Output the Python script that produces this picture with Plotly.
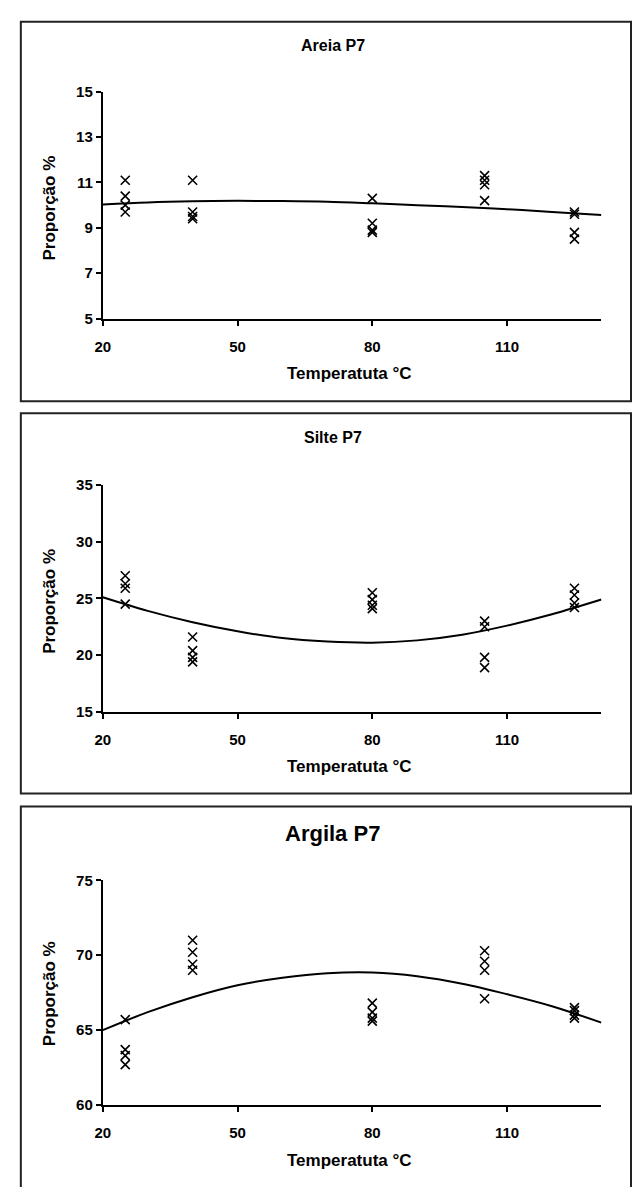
import plotly.graph_objects as go

W, H = 632, 1187

# ---------------- data ----------------
temps = [25, 40, 80, 105, 125]

areia_obs = {
    25: [11.1, 10.4, 10.0, 9.7],
    40: [11.1, 9.7, 9.5, 9.4],
    80: [10.3, 9.2, 8.9, 8.8],
    105: [11.3, 11.1, 10.9, 10.2],
    125: [9.7, 9.6, 8.8, 8.5],
}
silte_obs = {
    25: [27.0, 26.3, 25.9, 24.5],
    40: [21.6, 20.4, 19.8, 19.4],
    80: [25.5, 24.9, 24.4, 24.1],
    105: [23.0, 22.5, 19.8, 18.9],
    125: [25.9, 25.3, 24.6, 24.2],
}
argila_obs = {
    25: [65.7, 63.7, 63.3, 62.7],
    40: [71.0, 70.2, 69.4, 69.0],
    80: [66.8, 66.2, 65.8, 65.6],
    105: [70.3, 69.6, 69.0, 67.1],
    125: [66.5, 66.3, 66.0, 65.8],
}

# trend lines read at these temperatures
trend_t = [20, 30, 40, 50, 60, 70, 80, 90, 100, 110, 120, 131]
areia_trend = [10.03, 10.12, 10.17, 10.19, 10.18, 10.15, 10.08, 10.0, 9.92, 9.82, 9.70, 9.57]
silte_trend = [25.1, 23.9, 22.9, 22.1, 21.5, 21.2, 21.1, 21.3, 21.8, 22.6, 23.6, 24.9]
argila_trend = [65.0, 66.2, 67.2, 68.0, 68.5, 68.8, 68.85, 68.6, 68.1, 67.4, 66.6, 65.5]

titles = ["Areia P7", "Silte P7", "Argila P7"]
x_title = "Temperatuta °C"
y_title = "Proporção %"
x_ticks = [20, 50, 80, 110]
y_ticks = [[5, 7, 9, 11, 13, 15], [15, 20, 25, 30, 35], [60, 65, 70, 75]]
y_ranges = [[5, 15], [15, 35], [60, 75]]

# ---------------- layout geometry (pixels) ----------------
def py(p):
    return 1 - p / H

x_dom = [96 / W, 601 / W]
y_doms = [[py(314), py(84)], [py(713), py(483)], [py(1112), py(884)]]
boxes = [(13, 631, 13, 398), (13, 631, 410, 796), (13, 631, 809, 1200)]
title_y = [37, 435, 836]
title_size = [16, 16, 22]
xtitle_y = [370, 768, 1168]
ytitle_y = [202, 601, 999]

FONT = "Liberation Sans, Arial, sans-serif"

fig = go.Figure()
obs_all = [areia_obs, silte_obs, argila_obs]
trends = [areia_trend, silte_trend, argila_trend]

for i in range(3):
    xa = "x" if i == 0 else f"x{i+1}"
    ya = "y" if i == 0 else f"y{i+1}"
    xs, ys = [], []
    for t in temps:
        for v in obs_all[i][t]:
            xs.append(t)
            ys.append(v)
    fig.add_trace(go.Scatter(
        x=xs, y=ys, mode="markers", xaxis=xa, yaxis=ya,
        marker=dict(symbol="x-thin", size=9, line=dict(color="black", width=1.6)),
        showlegend=False, cliponaxis=False))
    fig.add_trace(go.Scatter(
        x=trend_t, y=trends[i], mode="lines", xaxis=xa, yaxis=ya,
        line=dict(color="black", width=2, shape="spline"),
        showlegend=False))

axis_common = dict(showline=True, linecolor="black", linewidth=2, ticks="outside",
                   ticklen=5, tickwidth=2, tickcolor="black", showgrid=False,
                   zeroline=False,
                   tickfont=dict(family=FONT, size=15, color="black", weight="bold"))

layout = dict(width=W, height=H, margin=dict(l=0, r=0, t=0, b=0),
              paper_bgcolor="white", plot_bgcolor="white", showlegend=False)
for i in range(3):
    xk = "xaxis" if i == 0 else f"xaxis{i+1}"
    yk = "yaxis" if i == 0 else f"yaxis{i+1}"
    ya = "y" if i == 0 else f"y{i+1}"
    xa = "x" if i == 0 else f"x{i+1}"
    layout[xk] = dict(domain=x_dom, anchor=ya, range=[20, 131], tickvals=x_ticks,
                      ticklabelstandoff=8, **axis_common)
    layout[yk] = dict(domain=y_doms[i], anchor=xa, range=y_ranges[i], tickvals=y_ticks[i],
                      **axis_common)
fig.update_layout(**layout)

shapes = []
annotations = []
for i in range(3):
    x0, x1, y0, y1 = boxes[i]
    shapes.append(dict(type="rect", xref="paper", yref="paper",
                       x0=x0 / W, x1=x1 / W, y0=py(y1), y1=py(y0),
                       line=dict(color="#222", width=2), fillcolor="rgba(0,0,0,0)"))
    annotations.append(dict(text=f"<b>{titles[i]}</b>", xref="paper", yref="paper",
                            x=329 / W, y=py(title_y[i]), showarrow=False,
                            xanchor="center", yanchor="middle",
                            font=dict(family=FONT, size=title_size[i], color="black")))
    annotations.append(dict(text=f"<b>{x_title}</b>", xref="paper", yref="paper",
                            x=346 / W, y=py(xtitle_y[i]), showarrow=False,
                            xanchor="center", yanchor="middle",
                            font=dict(family=FONT, size=17, color="black")))
    annotations.append(dict(text=f"<b>{y_title}</b>", xref="paper", yref="paper",
                            x=42 / W, y=py(ytitle_y[i]), showarrow=False, textangle=-90,
                            xanchor="center", yanchor="middle",
                            font=dict(family=FONT, size=17, color="black")))
fig.update_layout(shapes=shapes, annotations=annotations)

fig.write_html("out.html")
